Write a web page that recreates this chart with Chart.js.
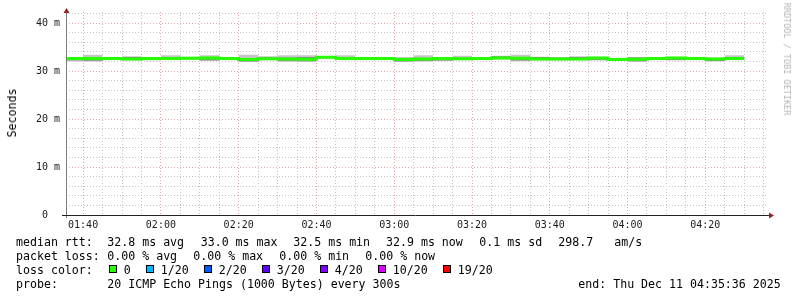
<!DOCTYPE html>
<html lang="en">
<head>
<meta charset="UTF-8">
<title>Smokeping median rtt</title>
<script src="https://cdn.jsdelivr.net/npm/chart.js@4.4.1/dist/chart.umd.min.js"></script>
<style>
  body { margin: 0; background: #fff; }
  #wrap { position: relative; width: 797px; height: 297px; font-family: "DejaVu Sans Mono", monospace; color: #000; overflow: hidden; }
  #wrap canvas { position: absolute; left: 0; top: 0; }
  .t { position: absolute; font-size: 11.6px; line-height: 14px; white-space: pre; }
  .row { position: absolute; display: flex; align-items: flex-start; font-size: 11.6px; line-height: 14px; white-space: pre; }
  .box { width: 8px; height: 8px; box-sizing: border-box; border: 1px solid #000; margin-top: 2.5px; margin-right: 6.7px; }
  .lab { margin-right: 15.4px; }
  #ylab { left: 11.5px; top: 113px; transform: translate(-50%, -50%) rotate(-90deg); }
  #wm { position: absolute; left: 786.5px; top: 59px; transform: translate(-50%, -50%) rotate(90deg); font-size: 8.5px; line-height: 10px; color: #b4b4b4; white-space: pre; }
</style>
</head>
<body>
<div id="wrap">
  <canvas id="smoke" width="797" height="297"></canvas>
  <div class="t" id="ylab">Seconds</div>
  <div id="wm">RRDTOOL / TOBI OETIKER</div>

  <div class="t" style="left:16px;top:234.5px">median rtt:</div>
  <div class="t" style="left:107.3px;top:234.5px">32.8 ms avg</div>
  <div class="t" style="left:200.7px;top:234.5px">33.0 ms max</div>
  <div class="t" style="left:293.3px;top:234.5px">32.5 ms min</div>
  <div class="t" style="left:386px;top:234.5px">32.9 ms now</div>
  <div class="t" style="left:479.3px;top:234.5px">0.1 ms sd</div>
  <div class="t" style="left:558.3px;top:234.5px">298.7</div>
  <div class="t" style="left:614.3px;top:234.5px">am/s</div>

  <div class="t" style="left:16px;top:248.5px">packet loss:</div>
  <div class="t" style="left:107.3px;top:248.5px">0.00 % avg</div>
  <div class="t" style="left:193.3px;top:248.5px">0.00 % max</div>
  <div class="t" style="left:279.3px;top:248.5px">0.00 % min</div>
  <div class="t" style="left:365.3px;top:248.5px">0.00 % now</div>

  <div class="t" style="left:16px;top:262.5px">loss color:</div>
  <div class="row" id="lossRow" style="left:109px;top:262.5px"></div>

  <div class="t" style="left:16px;top:276.5px">probe:</div>
  <div class="t" style="left:107.3px;top:276.5px">20 ICMP Echo Pings (1000 Bytes) every 300s</div>
  <div class="t" style="right:16.3px;top:276.5px">end: Thu Dec 11 04:35:36 2025</div>
</div>

<script>
// time window of the graph (hh:mm:ss)
const graphStart = '01:35:36';
const graphEnd = '04:35:36';

// 5 minute bins (start of each bin), last bin ends at 04:30
const binTimes = ['01:35:36', '01:40', '01:45', '01:50', '01:55', '02:00', '02:05', '02:10', '02:15',
    '02:20', '02:25', '02:30', '02:35', '02:40', '02:45', '02:50', '02:55', '03:00', '03:05', '03:10',
    '03:15', '03:20', '03:25', '03:30', '03:35', '03:40', '03:45', '03:50', '03:55', '04:00', '04:05',
    '04:10', '04:15', '04:20', '04:25'];
const lastBinEnd = '04:30';

// median rtt per bin (ms)
const median = [32.6, 32.6, 32.6, 32.5, 32.6, 32.6, 32.65, 32.7, 32.6, 32.4, 32.55, 32.5, 32.45, 32.85,
    32.6, 32.6, 32.6, 32.4, 32.5, 32.6, 32.55, 32.6, 32.7, 32.65, 32.5, 32.5, 32.5, 32.7, 32.4, 32.45,
    32.6, 32.7, 32.6, 32.5, 32.6];

// smoke: slowest / fastest ping of the 20 (ms)
const pingMax = [32.8, 33.4, 32.8, 33.1, 32.85, 33.3, 33.0, 33.3, 32.85, 33.4, 33.1, 33.3, 33.3, 33.05,
    33.3, 32.85, 32.85, 32.9, 33.3, 32.85, 33.2, 32.85, 33.2, 33.4, 33.0, 32.9, 33.1, 32.95, 32.7, 32.9,
    32.85, 32.95, 32.85, 32.8, 33.3];
const pingMin = [32.0, 32.0, 32.35, 32.2, 32.2, 32.35, 32.4, 32.1, 32.35, 31.9, 32.3, 31.95, 31.95, 32.6,
    32.35, 32.35, 32.35, 31.95, 32.0, 32.1, 32.25, 32.35, 32.4, 32.05, 32.2, 32.2, 32.25, 32.2, 32.1, 31.95,
    32.35, 32.2, 32.35, 32.0, 32.35];

// smoke: inner (denser) part of the pings (ms)
const innerHi = [32.8, 32.8, 32.8, 32.9, 32.8, 32.8, 32.85, 32.9, 32.8, 32.6, 32.85, 32.8, 32.9, 33.0,
    32.8, 32.8, 32.8, 32.65, 32.7, 32.8, 32.75, 32.8, 33.1, 32.85, 32.9, 32.75, 32.9, 32.85, 32.6, 32.8,
    32.8, 32.85, 32.8, 32.7, 32.85];
const innerLo = [32.25, 32.15, 32.4, 32.3, 32.4, 32.4, 32.45, 32.25, 32.4, 32.0, 32.35, 32.1, 32.05, 32.65,
    32.4, 32.4, 32.4, 32.0, 32.1, 32.2, 32.35, 32.4, 32.5, 32.2, 32.3, 32.3, 32.3, 32.3, 32.2, 32.05,
    32.4, 32.3, 32.4, 32.1, 32.4];

// axis ticks
const yTicks = [0, 2, 4, 6, 8, 10, 12, 14, 16, 18, 20, 22, 24, 26, 28, 30, 32, 34, 36, 38, 40, 42];
const yMax = 42.3;
const xTickTimes = ['01:40', '01:45', '01:50', '01:55', '02:00', '02:05', '02:10', '02:15', '02:20', '02:25',
    '02:30', '02:35', '02:40', '02:45', '02:50', '02:55', '03:00', '03:05', '03:10', '03:15', '03:20', '03:25',
    '03:30', '03:35', '03:40', '03:45', '03:50', '03:55', '04:00', '04:05', '04:10', '04:15', '04:20', '04:25',
    '04:30', '04:35'];

// loss colour legend
const lossLabels = ['0', '1/20', '2/20', '3/20', '4/20', '10/20', '19/20'];
const lossColors = ['#26ff00', '#00b8ff', '#0059ff', '#5e00ff', '#7e00ff', '#dd00ff', '#ff0000'];

const MINOR = '#c6c6c6';
const MAJOR = '#e4a6a6';
const ARROW = '#952222';

function toMin(s) {
    const p = s.split(':').map(Number);
    return p[0] * 60 + p[1] + (p[2] || 0) / 60;
}
function fmt(m) {
    const h = Math.floor(m / 60), mm = Math.round(m % 60);
    return String(h).padStart(2, '0') + ':' + String(mm).padStart(2, '0');
}

// stepped series: each value holds until next bin start
const edges = binTimes.map(toMin).concat([toMin(lastBinEnd)]);
function steps(vals) {
    const pts = vals.map((v, i) => ({ x: edges[i], y: v }));
    pts.push({ x: edges[edges.length - 1], y: vals[vals.length - 1] });
    return pts;
}

const base = { stepped: true, pointRadius: 0, borderWidth: 0, tension: 0 };

// axis lines + arrows like rrdtool
const axisPlugin = {
    id: 'rrdAxes',
    afterDatasetsDraw(chart) {
        const { ctx, chartArea: a } = chart;
        ctx.save();
        ctx.lineWidth = 1;
        ctx.strokeStyle = '#7a7a7a';
        ctx.beginPath();
        ctx.moveTo(a.left + 0.5, a.bottom + 3);
        ctx.lineTo(a.left + 0.5, a.top - 2);
        ctx.stroke();
        ctx.strokeStyle = '#222';
        ctx.beginPath();
        ctx.moveTo(a.left - 4, a.bottom + 0.5);
        ctx.lineTo(a.right + 3, a.bottom + 0.5);
        ctx.stroke();
        ctx.fillStyle = ARROW;
        ctx.beginPath();
        ctx.moveTo(a.left + 0.5, a.top - 4);
        ctx.lineTo(a.left - 2.5, a.top + 1);
        ctx.lineTo(a.left + 3.5, a.top + 1);
        ctx.closePath();
        ctx.fill();
        ctx.beginPath();
        ctx.moveTo(a.right + 8, a.bottom + 0.5);
        ctx.lineTo(a.right + 3, a.bottom - 2.5);
        ctx.lineTo(a.right + 3, a.bottom + 3.5);
        ctx.closePath();
        ctx.fill();
        ctx.restore();
    }
};

const tickFont = { family: 'DejaVu Sans Mono', size: 10 };

new Chart(document.getElementById('smoke').getContext('2d'), {
    type: 'line',
    data: {
        datasets: [
            { ...base, label: 'median', data: steps(median), borderColor: '#26ff00', borderWidth: 3,
              borderJoinStyle: 'miter', borderCapStyle: 'butt', fill: false },
            { ...base, label: 'innerHi', data: steps(innerHi), fill: '+1', backgroundColor: '#8c8c8c' },
            { ...base, label: 'innerLo', data: steps(innerLo), fill: false },
            { ...base, label: 'max', data: steps(pingMax), fill: '+1', backgroundColor: '#c6c6c6' },
            { ...base, label: 'min', data: steps(pingMin), fill: false }
        ]
    },
    options: {
        responsive: false,
        animation: false,
        devicePixelRatio: 1,
        layout: { padding: { top: 12, right: 31, left: 0, bottom: 0 } },
        plugins: { legend: { display: false }, tooltip: { enabled: false } },
        scales: {
            x: {
                type: 'linear',
                min: toMin(graphStart),
                max: toMin(graphEnd),
                afterBuildTicks: s => { s.ticks = xTickTimes.map(t => ({ value: toMin(t) })); },
                afterFit: s => { s.height = 82; },
                grid: { drawTicks: false, lineWidth: 1,
                        color: c => (c.tick && Math.round(c.tick.value) % 20 === 0) ? MAJOR : MINOR },
                border: { display: false, dash: [1, 2] },
                ticks: { autoSkip: false, maxRotation: 0, minRotation: 0, padding: 4, color: '#1a1a1a',
                         font: tickFont,
                         callback: v => Math.round(v) % 20 === 0 ? fmt(v) : '' }
            },
            y: {
                min: 0,
                max: yMax,
                afterBuildTicks: s => { s.ticks = yTicks.map(v => ({ value: v })); },
                afterFit: s => { s.width = 66; },
                grid: { drawTicks: false, lineWidth: 1,
                        color: c => (c.tick && c.tick.value % 10 === 0) ? MAJOR : MINOR },
                border: { display: false, dash: [1, 2] },
                ticks: { autoSkip: false, padding: 6, color: '#1a1a1a', font: tickFont,
                         callback: v => v % 10 === 0 ? (v === 0 ? '0  ' : v + ' m') : '' }
            }
        }
    },
    plugins: [axisPlugin]
});

// loss colour legend boxes
const row = document.getElementById('lossRow');
lossLabels.forEach((l, i) => {
    const b = document.createElement('span');
    b.className = 'box';
    b.style.background = lossColors[i];
    const t = document.createElement('span');
    t.className = 'lab';
    t.textContent = l;
    row.appendChild(b);
    row.appendChild(t);
});
</script>
</body>
</html>
